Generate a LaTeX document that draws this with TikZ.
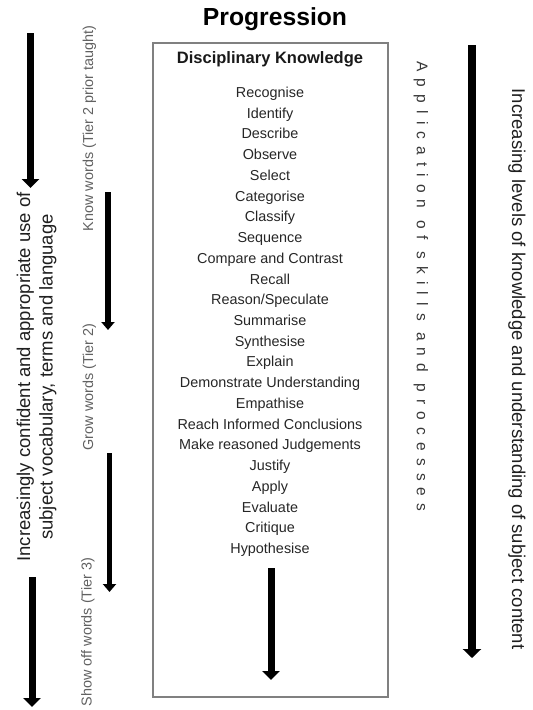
\documentclass[tikz,border=0pt]{standalone}
\usepackage{fontspec}
\setmainfont{Liberation Sans}
\usetikzlibrary{arrows.meta}
\tikzset{
  item/.style={font=\fontsize{14.4}{17}\selectfont, text=black!85, anchor=base, inner sep=0pt},
  tier/.style={font=\fontsize{14.4}{17}\selectfont, text=black!62, rotate=90, inner sep=0pt},
  side/.style={font=\fontsize{18.5}{22.5}\selectfont, text=black!88, inner sep=0pt, align=center},
  bigarrow/.style={line width=7pt, -{Triangle[width=17pt,length=9pt]}},
  smallarrow/.style={line width=5.5pt, -{Triangle[width=13pt,length=8pt]}},
  frame/.style={draw=black!50, line width=1.3pt, minimum width=235pt, minimum height=654pt, inner sep=0pt}
}
\begin{document}
\begin{tikzpicture}[x=1pt,y=-1pt]
\useasboundingbox (0,0) rectangle (533,710);
% title
\node[anchor=base, inner sep=0pt, font=\fontsize{24.7}{28}\selectfont\bfseries] (title) at (275,25) {Progression};
% main box
\node[frame] (box) at (270.5,370) {};
\node[anchor=base, inner sep=0pt, font=\fontsize{16.5}{19}\selectfont\bfseries, text=black!90] (dk) at (270,63) {Disciplinary Knowledge};
\foreach \w [count=\i from 0] in {Recognise,Identify,Describe,Observe,Select,Categorise,Classify,Sequence,Compare and Contrast,Recall,Reason/Speculate,Summarise,Synthesise,Explain,Demonstrate Understanding,Empathise,Reach Informed Conclusions,Make reasoned Judgements,Justify,Apply,Evaluate,Critique,Hypothesise}
  \node[item] (w\i) at (270,97.5+20.73*\i) {\w};
% arrow in box
\coordinate (ba1) at (271,568);
\coordinate (ba2) at (271,680);
\draw[bigarrow] (ba1) -- (ba2);
% left side text
\node[side, rotate=90] (lefttext) at (36.5,377) {Increasingly confident and appropriate use of\\subject vocabulary, terms and language};
\coordinate (la1) at (30.5,33);
\coordinate (la2) at (30.5,188);
\coordinate (lb1) at (32,577);
\coordinate (lb2) at (32,707);
\draw[bigarrow] (la1) -- (la2);
\draw[bigarrow] (lb1) -- (lb2);
% tiers
\node[tier] (know) at (89.5,128.5) {Know words (Tier 2 prior taught)};
\node[tier] (grow) at (89.5,387) {Grow words (Tier 2)};
\node[tier] (show) at (88,632) {Show off words (Tier 3)};
\coordinate (ca1) at (108,192);
\coordinate (ca2) at (108,330);
\coordinate (da1) at (109.5,453);
\coordinate (da2) at (109.5,592);
\draw[smallarrow] (ca1) -- (ca2);
\draw[smallarrow] (da1) -- (da2);
% right side
\node[inner sep=0pt, rotate=-90, text=black!78, font=\fontsize{15.5}{18}\selectfont\addfontfeature{LetterSpace=46}] (app) at (421,286.5) {Application of skills and processes};
\coordinate (ra1) at (472,45);
\coordinate (ra2) at (472,658);
\draw[line width=7.5pt, -{Triangle[width=18pt,length=9pt]}] (ra1) -- (ra2);
\node[side, rotate=-90] (righttext) at (517,369) {Increasing levels of knowledge and understanding of subject content};
\end{tikzpicture}
\end{document}
